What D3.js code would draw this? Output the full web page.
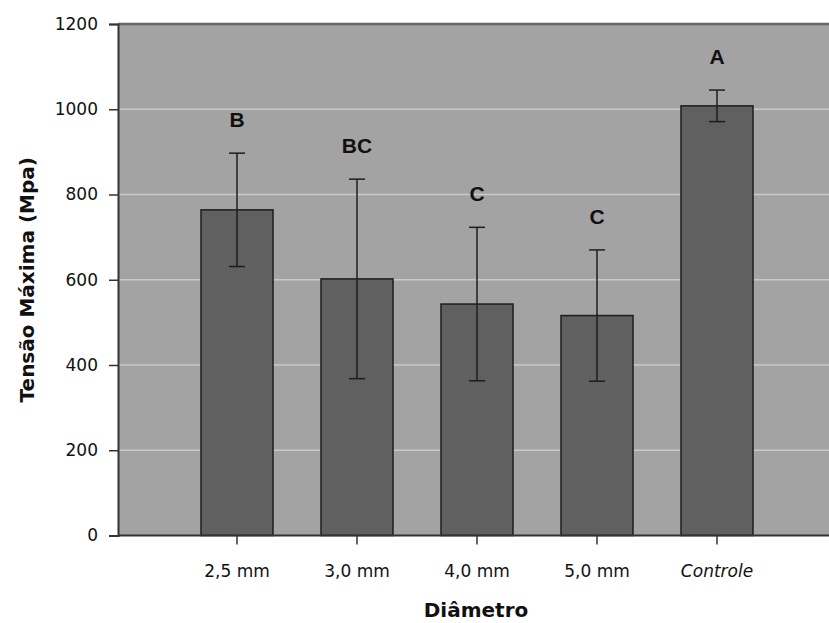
<!DOCTYPE html>
<html>
<head>
    <meta charset="UTF-8">
    <style>
        body { margin: 0; background: #fff; }
        svg { display: block; }
    </style>
</head>
<body>
    <svg></svg>
    <script src="https://d3js.org/d3.v7.min.js"></script>
    <script>

        let width = 829, height = 623;

        // data
        const categories = ["2,5 mm", "3,0 mm", "4,0 mm", "5,0 mm", "Controle"];
        const means = [764, 602, 543, 516, 1008];
        const errors = [133, 234, 180, 154, 37];
        const letters = ["B", "BC", "C", "C", "A"];
        const yTicks = [0, 200, 400, 600, 800, 1000, 1200];

        let plot = { left: 118, right: 829, top: 24, bottom: 535.5 };

        let svg = d3.select("svg")
            .attr("width", width)
            .attr("height", height);

        let x = d3.scaleBand()
            .domain(categories)
            .range([177, 777])
            .paddingInner(0.4)
            .paddingOuter(0.2);

        let y = d3.scaleLinear()
            .domain([0, 1200])
            .range([plot.bottom, plot.top]);

        // plot background
        svg.append("rect")
            .attr("x", plot.left)
            .attr("y", plot.top)
            .attr("width", plot.right - plot.left)
            .attr("height", plot.bottom - plot.top)
            .style("fill", "#a3a3a3");

        // gridlines
        svg.append("g")
            .selectAll("line")
            .data(yTicks.filter(d => d > 0 && d < 1200))
            .enter()
            .append("line")
            .attr("x1", plot.left)
            .attr("x2", plot.right)
            .attr("y1", d => y(d))
            .attr("y2", d => y(d))
            .style("stroke", "#c9c9c9")
            .style("stroke-width", 1.5);

        // top border
        svg.append("line")
            .attr("x1", plot.left).attr("x2", plot.right)
            .attr("y1", plot.top).attr("y2", plot.top)
            .style("stroke", "#666")
            .style("stroke-width", 2.5);

        // bars
        svg.append("g")
            .selectAll("rect")
            .data(means)
            .enter()
            .append("rect")
            .attr("x", (d, i) => x(categories[i]))
            .attr("y", d => y(d))
            .attr("width", x.bandwidth())
            .attr("height", d => y(0) - y(d))
            .style("fill", "#606060")
            .style("stroke", "#1e1e1e")
            .style("stroke-width", 1.5);

        // error bars
        let err = svg.append("g")
            .style("stroke", "#1e1e1e")
            .style("stroke-width", 1.5);

        means.forEach((m, i) => {
            let cx = x(categories[i]) + x.bandwidth() / 2;
            let hi = y(m + errors[i]), lo = y(m - errors[i]);
            err.append("line").attr("x1", cx).attr("x2", cx).attr("y1", hi).attr("y2", lo);
            err.append("line").attr("x1", cx - 8).attr("x2", cx + 8).attr("y1", hi).attr("y2", hi);
            err.append("line").attr("x1", cx - 8).attr("x2", cx + 8).attr("y1", lo).attr("y2", lo);
        });

        // significance letters
        svg.append("g")
            .selectAll("text")
            .data(letters)
            .enter()
            .append("text")
            .attr("x", (d, i) => x(categories[i]) + x.bandwidth() / 2)
            .attr("y", (d, i) => y(means[i] + errors[i]) - 26)
            .attr("text-anchor", "middle")
            .style("font-family", "'Liberation Sans', Arial, sans-serif")
            .style("font-weight", "bold")
            .style("font-size", "21px")
            .style("fill", "#111")
            .text(d => d);

        // y axis
        let yAxis = svg.append("g")
            .attr("transform", "translate(" + plot.left + ",0)")
            .call(d3.axisLeft(y).tickValues(yTicks).tickSize(9).tickPadding(11).tickFormat(d3.format("d")));
        yAxis.select(".domain").style("stroke", "#333").style("stroke-width", 2);
        yAxis.selectAll(".tick line").style("stroke", "#333").style("stroke-width", 1.5);
        yAxis.selectAll("text")
            .style("font-family", "'DejaVu Sans', Verdana, sans-serif")
            .style("font-size", "17px")
            .style("fill", "#111");

        // x axis
        let xAxis = svg.append("g")
            .attr("transform", "translate(0," + plot.bottom + ")")
            .call(d3.axisBottom(x).tickSize(9).tickPadding(0).tickSizeOuter(0));
        xAxis.select(".domain")
            .attr("d", "M" + plot.left + ",0H" + plot.right)
            .style("stroke", "#333").style("stroke-width", 2);
        xAxis.selectAll(".tick line").style("stroke", "#333").style("stroke-width", 1.5);
        xAxis.selectAll("text")
            .attr("y", 41.5)
            .attr("dy", null)
            .style("font-family", "'DejaVu Sans', Verdana, sans-serif")
            .style("font-size", "17px")
            .style("fill", "#111")
            .style("font-style", d => d === "Controle" ? "italic" : "normal");

        // axis titles
        svg.append("text")
            .attr("transform", "translate(34," + (plot.top + plot.bottom) / 2 + ") rotate(-90)")
            .attr("text-anchor", "middle")
            .style("font-family", "'DejaVu Sans', Verdana, sans-serif")
            .style("font-weight", "bold")
            .style("font-size", "20px")
            .style("fill", "#111")
            .text("Tensão Máxima (Mpa)");

        svg.append("text")
            .attr("x", 476)
            .attr("y", 617)
            .attr("text-anchor", "middle")
            .style("font-family", "'DejaVu Sans', Verdana, sans-serif")
            .style("font-weight", "bold")
            .style("font-size", "20px")
            .style("fill", "#111")
            .text("Diâmetro");

    </script>
</body>
</html>
